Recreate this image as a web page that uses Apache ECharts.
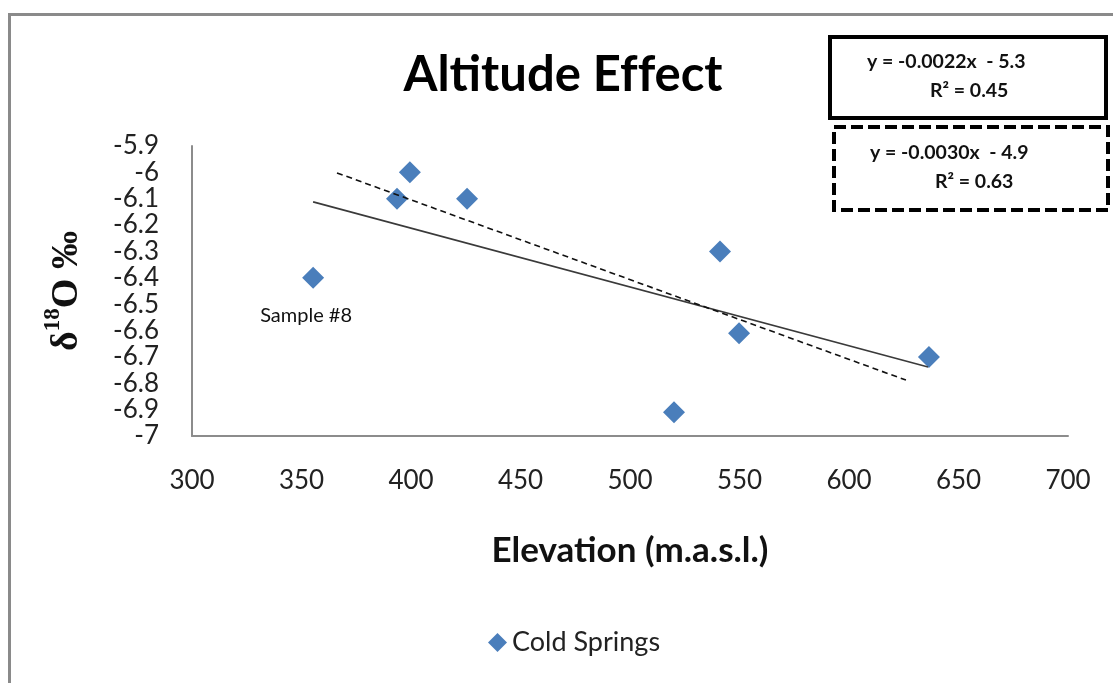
<!DOCTYPE html>
<html>
<head>
<meta charset="utf-8">
<script src="https://cdn.jsdelivr.net/npm/echarts@6/dist/echarts.min.js"></script>
<style>
html,body{margin:0;padding:0;background:#fff;}
#chart{width:1113px;height:683px;}
</style>
</head>
<body>
<div id="chart"></div>
<script>
// ---- data ----
const elevations = [355.3, 393.6, 399.5, 425.6, 541.1, 549.8, 520.1, 636.5];
const d18O       = [-6.40, -6.10, -6.00, -6.10, -6.30, -6.61, -6.91, -6.70];
const sampleLabels = ['Sample #8', '', '', '', '', '', '', ''];
const trendAllX = [355.3, 636.1];
const trendAllY = [-6.112, -6.738];
const trendSubX = [366.2, 626.0];
const trendSubY = [-6.002, -6.788];
const xTicks = {min: 300, max: 700, step: 50};
const yTicks = {min: -7, max: -5.9, step: 0.1};
const eqSolid = ['y = -0.0022x  - 5.3', 'R\u00B2 = 0.45'];
const eqDashed = ['y = -0.0030x  - 4.9', 'R\u00B2 = 0.63'];
const ZW = '\u200C'; // breaks font ligatures only
const chartTitle = 'Alti' + ZW + 't' + ZW + 'ude Ef' + ZW + 'fect';
const xTitle = 'Eleva' + ZW + 'tion (m.a.s.l.)';

const FONT = 'Lato, "Open Sans", sans-serif';

const scatterData = elevations.map((x, i) => {
  const item = {value: [x, d18O[i]]};
  if (sampleLabels[i]) {
    item.label = {
      show: true, formatter: sampleLabels[i], position: 'bottom', distance: 17,
      offset: [-7, 0], color: '#111', fontSize: 20, fontFamily: FONT
    };
  }
  return item;
});
const solidData = trendAllX.map((x, i) => [x, trendAllY[i]]);
const dashedData = trendSubX.map((x, i) => [x, trendSubY[i]]);

const chart = echarts.init(document.getElementById('chart'));
chart.setOption({
  backgroundColor: '#fff',
  animation: false,
  grid: {left: 192, top: 146, right: 45, bottom: 247, containLabel: false},
  xAxis: {
    type: 'value', min: xTicks.min, max: xTicks.max, interval: xTicks.step,
    axisLine: {show: true, lineStyle: {color: '#8c8c8c', width: 2}},
    axisTick: {show: false}, splitLine: {show: false},
    axisLabel: {color: '#222', fontSize: 26, fontFamily: FONT, margin: 32},
    name: xTitle, nameLocation: 'middle', nameGap: 97,
    nameTextStyle: {color: '#111', fontSize: 35, fontWeight: 'bold', fontFamily: FONT}
  },
  yAxis: {
    type: 'value', min: yTicks.min, max: yTicks.max, interval: yTicks.step,
    axisLine: {show: true, lineStyle: {color: '#8c8c8c', width: 2}},
    axisTick: {show: false}, splitLine: {show: false},
    axisLabel: {color: '#222', fontSize: 26, fontFamily: FONT, margin: 33},
    name: '{d|\u03B4}{s|18}{d|O \u2030}', nameLocation: 'middle', nameGap: 106,
    nameTextStyle: {
      rich: {
        d: {fontFamily: '"Liberation Serif", serif', fontWeight: 'bold', fontSize: 38, color: '#111', verticalAlign: 'bottom', lineHeight: 44},
        s: {fontFamily: '"Liberation Serif", serif', fontWeight: 'bold', fontSize: 23, color: '#111', verticalAlign: 'top', lineHeight: 44, padding: [0, 0, 13, 0]}
      }
    }
  },
  legend: {
    data: ['Cold Springs'], left: 483, top: 624, icon: 'diamond',
    itemWidth: 19, itemHeight: 19, itemGap: 6,
    textStyle: {color: '#222', fontSize: 27, fontFamily: FONT}
  },
  series: [
    {
      name: 'Cold Springs', type: 'scatter', symbol: 'diamond', symbolSize: 22,
      itemStyle: {color: '#4A7EBB', opacity: 1}, data: scatterData, z: 2
    },
    {
      name: 'trend all', type: 'line', data: solidData, showSymbol: false, symbol: 'none',
      lineStyle: {color: '#3a3a3a', width: 1.6}, z: 3, silent: true
    },
    {
      name: 'trend subset', type: 'line', data: dashedData, showSymbol: false, symbol: 'none',
      lineStyle: {color: '#111', width: 1.6, type: [6, 4]}, z: 3, silent: true
    }
  ],
  graphic: [
    {type: 'rect', silent: true, z: -10, shape: {x: 9.5, y: 14.5, width: 1300, height: 1000},
     style: {fill: 'rgba(0,0,0,0)', stroke: '#8a8a8a', lineWidth: 3}},
    {type: 'text', silent: true, x: 563, y: 75,
     style: {text: chartTitle, fill: '#000', fontSize: 49, fontWeight: 'bold', fontFamily: FONT, align: 'center', verticalAlign: 'middle'}},
    {type: 'rect', silent: true, shape: {x: 830, y: 37, width: 276, height: 81},
     style: {fill: '#fff', stroke: '#000', lineWidth: 4}},
    {type: 'text', silent: true, x: 867, y: 62,
     style: {text: eqSolid[0], fill: '#111', fontSize: 19.5, fontWeight: 'bold', fontFamily: FONT, align: 'left', verticalAlign: 'middle'}},
    {type: 'text', silent: true, x: 930, y: 91,
     style: {text: eqSolid[1], fill: '#111', fontSize: 19.5, fontWeight: 'bold', fontFamily: FONT, align: 'left', verticalAlign: 'middle'}},
    {type: 'rect', silent: true, shape: {x: 834, y: 127, width: 274, height: 83},
     style: {fill: '#fff', stroke: '#000', lineWidth: 4, lineDash: [12, 5]}},
    {type: 'text', silent: true, x: 870, y: 153,
     style: {text: eqDashed[0], fill: '#111', fontSize: 19.5, fontWeight: 'bold', fontFamily: FONT, align: 'left', verticalAlign: 'middle'}},
    {type: 'text', silent: true, x: 935, y: 182,
     style: {text: eqDashed[1], fill: '#111', fontSize: 19.5, fontWeight: 'bold', fontFamily: FONT, align: 'left', verticalAlign: 'middle'}}
  ]
});
</script>
</body>
</html>
